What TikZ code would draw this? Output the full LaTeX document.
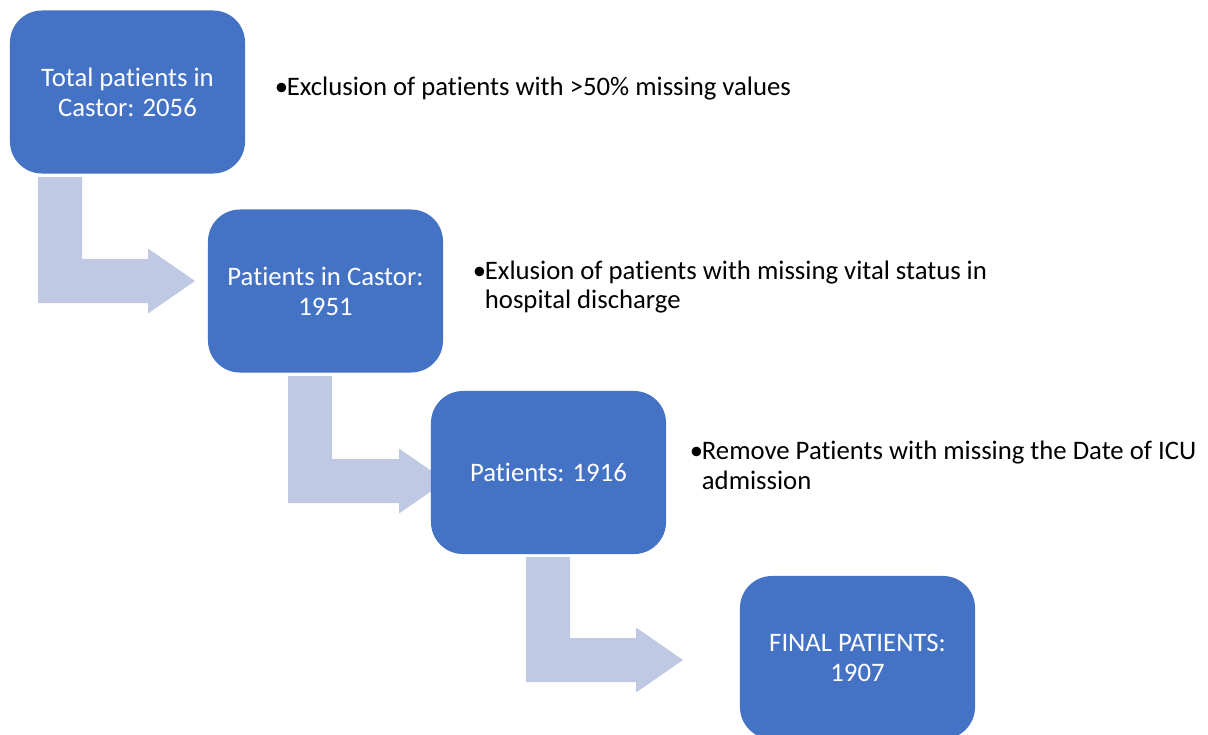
\documentclass[tikz,border=0pt]{standalone}
\usepackage{fontspec}
\setmainfont{Carlito}[Ligatures=NoCommon]
\usetikzlibrary{calc}
\definecolor{stepblue}{HTML}{4472C4}
\definecolor{arrowgrey}{HTML}{BFC9E3}

% bent arrow from top of stem (#1) to tip (#2)
\newcommand{\bentarrow}[2]{%
  \fill[arrowgrey] (#1) -- ++(44,0) |- ($(#2)+(-47,-22)$) -- ($(#2)+(-47,-32.5)$)
    -- (#2) -- ($(#2)+(-47,32.5)$) -- ($(#2)+(-47,22)$) -| (#1) -- cycle;}
\newcommand{\bul}{\makebox[8.5pt][l]{•}}

\begin{document}
\begin{tikzpicture}[x=0.025cm,y=-0.025cm,
    stepbox/.style={fill=stepblue,rounded corners=0.8cm,minimum width=5.875cm,
      minimum height=4.075cm,text=white,align=center,font=\fontsize{19}{21.3}\selectfont},
    note/.style={anchor=west,align=left,font=\fontsize{19}{21.3}\selectfont}]
  \clip (0,0) rectangle (1208,735);
  \coordinate (a1s) at (38,177);  \coordinate (a1t) at (195,281);
  \coordinate (a2s) at (288,376); \coordinate (a2t) at (446,481);
  \coordinate (a3s) at (526,557); \coordinate (a3t) at (683,660);
  \bentarrow{a1s}{a1t}
  \bentarrow{a2s}{a2t}
  \bentarrow{a3s}{a3t}
  \node[stepbox] (total) at (127.5,92) {Total patients in\\Castor: 2056};
  \node[stepbox] (castor) at (325.5,291) {Patients in Castor:\\1951};
  \node[stepbox] (icu) at (548.5,472.5) {Patients: 1916};
  \node[stepbox] (final) at (857.5,657.5) {FINAL PATIENTS:\\1907};
  \node[note] (ex1) at (270,89) {\bul Exclusion of patients with >50\% missing values};
  \node[note] (ex2) at (468,287) {\bul Exlusion of patients with missing vital status in\\\hspace*{8.5pt}hospital discharge};
  \node[note] (ex3) at (685,465) {\bul Remove Patients with missing the Date of ICU\\\hspace*{8.5pt}admission};
\end{tikzpicture}
\end{document}
